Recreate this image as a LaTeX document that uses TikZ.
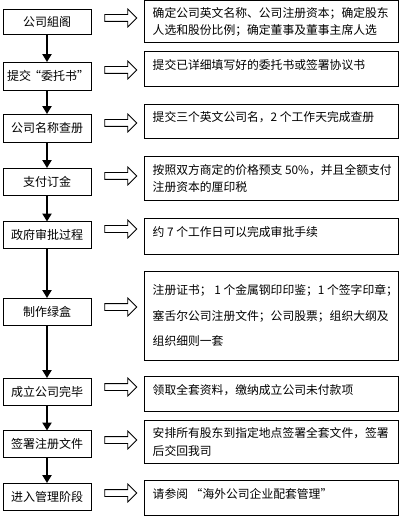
\documentclass[tikz,border=0pt]{standalone}
\usepackage{fontspec}
\newfontfamily\cjk{Noto Sans CJK SC}
\usetikzlibrary{arrows.meta,shapes.arrows}
\tikzset{
  stepbox/.style={draw=black, line width=0.9pt, minimum width=88pt, inner sep=0pt, font=\cjk\fontsize{12}{14}\selectfont},
  infobox/.style={draw=black, line width=1pt, minimum width=254pt, inner sep=0pt},
  infotext/.style={anchor=north west, inner sep=0pt, align=left, font=\cjk\fontsize{11.8}{17}\selectfont},
  flow/.style={line width=2.2pt, -{Triangle[width=9pt,length=8pt]}, shorten >=-0.5pt},
  hollow/.style={shape=single arrow, draw=black, line width=0.8pt, fill=white, inner xsep=0pt, inner ysep=3pt,
    minimum height=32pt, single arrow head extend=5.5pt, single arrow tip angle=90}
}
\begin{document}
\begin{tikzpicture}[x=1pt,y=-1pt]
\useasboundingbox[fill=white] (0,0) rectangle (408,526);
% left step boxes
\node[stepbox, minimum height=25pt] (b1) at (47,21.5) {公司組阁};
\node[stepbox, minimum height=28pt] (b2) at (47,76) {提交\kern-2pt“委托书”\kern-2pt};
\node[stepbox, minimum height=28pt] (b3) at (47,128) {公司名称查册};
\node[stepbox, minimum height=27pt] (b4) at (47,181.5) {支付订金};
\node[stepbox, minimum height=27pt] (b5) at (47,235) {政府审批过程};
\node[stepbox, minimum height=27pt] (b6) at (47,311.5) {制作绿盒};
\node[stepbox, minimum height=27pt] (b7) at (47,391.5) {成立公司完毕};
\node[stepbox, minimum height=27pt] (b8) at (47,444) {签署注册文件};
\node[stepbox, minimum height=27pt] (b9) at (47,496.5) {进入管理阶段};
% flow arrows
\draw[flow] (b1) -- (b2);
\draw[flow] (b2) -- (b3);
\draw[flow] (b3) -- (b4);
\draw[flow] (b4) -- (b5);
\draw[flow] (b5) -- (b6);
\draw[flow] (b6) -- (b7);
\draw[flow] (b7) -- (b8);
\draw[flow] (b8) -- (b9);
% hollow block arrows
\node[hollow] (a1) at (119,18) {};
\node[hollow] (a2) at (119,70) {};
\node[hollow] (a3) at (119,123) {};
\node[hollow] (a4) at (119,176) {};
\node[hollow] (a5) at (119,229) {};
\node[hollow] (a6) at (119,307) {};
\node[hollow] (a7) at (119,387) {};
\node[hollow] (a8) at (119,440) {};
\node[hollow] (a9) at (119,493) {};
% right info boxes
\node[infobox, minimum height=42pt] (r1) at (271,22) {};
\node[infobox, minimum height=35pt] (r2) at (271,69.5) {};
\node[infobox, minimum height=34pt] (r3) at (271,122) {};
\node[infobox, minimum height=44pt] (r4) at (271,179) {};
\node[infobox, minimum height=35pt] (r5) at (271,236.5) {};
\node[infobox, minimum height=89pt] (r6) at (271,315.5) {};
\node[infobox, minimum height=35pt] (r7) at (271,393.5) {};
\node[infobox, minimum height=43pt] (r8) at (271,441.5) {};
\node[infobox, minimum height=35pt] (r9) at (271,497.5) {};
% texts
\node[infotext] (t1) at ([xshift=9pt,yshift=-7pt]r1.north west) {确定公司英文名称、公司注册资本；确定股东\\人选和股份比例；确定董事及董事主席人选};
\node[infotext] (t2) at ([xshift=9pt,yshift=-8pt]r2.north west) {提交已详细填写好的委托书或签署协议书};
\node[infotext] (t3) at ([xshift=9pt,yshift=-7pt]r3.north west) {提交三个英文公司名，2 个工作天完成查册};
\node[infotext] (t4) at ([xshift=9pt,yshift=-8pt]r4.north west) {按照双方商定的价格预支 50\%，并且全额支付\\注册资本的厘印税};
\node[infotext] (t5) at ([xshift=9pt,yshift=-8pt]r5.north west) {约 7 个工作日可以完成审批手续};
\node[infotext, font=\cjk\fontsize{11.8}{25.5}\selectfont] (t6) at ([xshift=9pt,yshift=-14pt]r6.north west) {注册证书； 1 个金属钢印印鉴；1 个签字印章；\\塞舌尔公司注册文件；公司股票；组织大纲及\\组织细则一套};
\node[infotext] (t7) at ([xshift=9pt,yshift=-9pt]r7.north west) {领取全套资料，缴纳成立公司未付款项};
\node[infotext, font=\cjk\fontsize{11.8}{18}\selectfont] (t8) at ([xshift=9pt,yshift=-8pt]r8.north west) {安排所有股东到指定地点签署全套文件，签署\\后交回我司};
\node[infotext] (t9) at ([xshift=9pt,yshift=-9pt]r9.north west) {请参阅 “海外公司企业配套管理”};
\end{tikzpicture}
\end{document}
